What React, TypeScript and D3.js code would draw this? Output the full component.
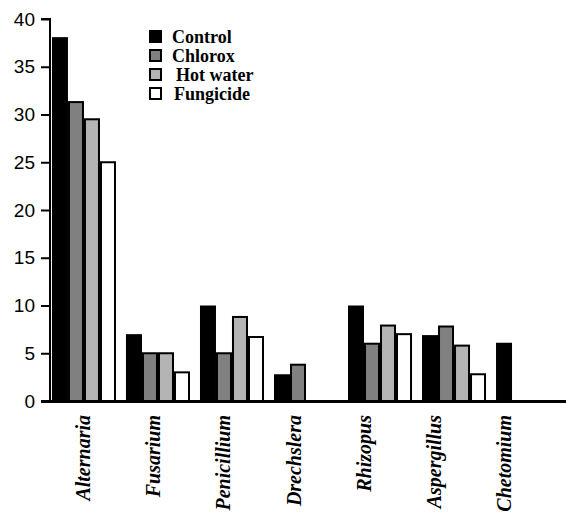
import React, { useEffect, useRef } from "react";
import * as d3 from "d3";

const categories = ["Alternaria", "Fusarium", "Penicillium", "Drechslera", "Rhizopus", "Aspergillus", "Chetomium"];
const seriesNames = ["Control", "Chlorox", "Hot water", "Fungicide"];
const control = [38.1, 7, 10, 2.8, 10, 6.9, 6.1];
const chlorox = [31.3, 5, 5, 3.8, 6, 7.8, null];
const hotWater = [29.5, 5, 8.8, null, 7.9, 5.8, null];
const fungicide = [25, 3, 6.7, null, 7, 2.8, null];
const yTicks = [0, 5, 10, 15, 20, 25, 30, 35, 40];

const colors = ["#000000", "#808080", "#b4b4b4", "#ffffff"];

const App = () => {
  const ref = useRef<SVGSVGElement>(null);

  useEffect(() => {
    const svg = d3.select(ref.current);
    svg.selectAll("*").remove();

    const width = 566;
    const height = 516;
    const allSeries = [control, chlorox, hotWater, fungicide];

    const x = d3
      .scaleBand()
      .domain(categories)
      .range([49, 563])
      .paddingInner(0.135)
      .paddingOuter(0.04);

    const xs = d3
      .scaleBand()
      .domain(seriesNames)
      .range([0, x.bandwidth()]);

    // label positions drift a little from the groups in the original
    const xl = d3.scalePoint().domain(categories).range([83, 504]);

    const y = d3.scaleLinear().domain([0, 40]).range([401, 19]);

    // bars
    seriesNames.forEach((s, i) => {
      svg
        .append("g")
        .selectAll("rect")
        .data(categories.map((c, j) => ({ c, v: allSeries[i][j] })).filter((d) => d.v != null))
        .enter()
        .append("rect")
        .attr("x", (d) => x(d.c)! + xs(s)! + (i > 0 ? 1 : 0))
        .attr("y", (d) => y(d.v as number))
        .attr("width", xs.bandwidth() - (i > 0 ? 2 : 0))
        .attr("height", (d) => y(0) - y(d.v as number))
        .attr("fill", colors[i])
        .attr("stroke", "#000")
        .attr("stroke-width", i > 0 ? 2 : 0);
    });

    // Y axis
    const yAxis = svg
      .append("g")
      .attr("transform", "translate(50,0)")
      .call(d3.axisLeft(y).tickValues(yTicks).tickSize(9).tickPadding(6));
    yAxis.select(".domain").attr("stroke-width", 2).attr("d", `M-9,${y(40)}H0V${y(0)}`);
    yAxis.selectAll(".tick line").attr("stroke-width", 2);
    yAxis
      .selectAll(".tick text")
      .attr("font-family", "Liberation Sans, Arial, sans-serif")
      .attr("font-size", 19)
      .attr("fill", "#000");

    // X axis line
    svg
      .append("line")
      .attr("x1", 41)
      .attr("x2", width)
      .attr("y1", y(0) + 0.5)
      .attr("y2", y(0) + 0.5)
      .attr("stroke", "#000")
      .attr("stroke-width", 3);

    // category labels
    svg
      .append("g")
      .selectAll("text")
      .data(categories)
      .enter()
      .append("text")
      .attr("transform", (d) => `translate(${xl(d)! + 7},415) rotate(-90)`)
      .attr("text-anchor", "end")
      .attr("font-family", "Liberation Serif, Times New Roman, serif")
      .attr("font-style", "italic")
      .attr("font-weight", "bold")
      .attr("font-size", 20)
      .text((d) => d);

    // legend
    const legend = svg.append("g");
    const textX = [172, 172, 176, 174];
    seriesNames.forEach((s, i) => {
      const by = 43 + i * 19;
      legend
        .append("rect")
        .attr("x", 150)
        .attr("y", by - 12)
        .attr("width", 11)
        .attr("height", 11)
        .attr("fill", colors[i])
        .attr("stroke", "#000")
        .attr("stroke-width", 2);
      legend
        .append("text")
        .attr("x", textX[i])
        .attr("y", by)
        .attr("font-family", "Liberation Serif, Times New Roman, serif")
        .attr("font-weight", "bold")
        .attr("font-size", 18)
        .text(s);
    });

    svg.attr("width", width).attr("height", height);
  }, []);

  return (
    <svg
      ref={ref}
      style={{ position: "absolute", left: 0, top: 0, background: "#fff" }}
    ></svg>
  );
};

export default App;
